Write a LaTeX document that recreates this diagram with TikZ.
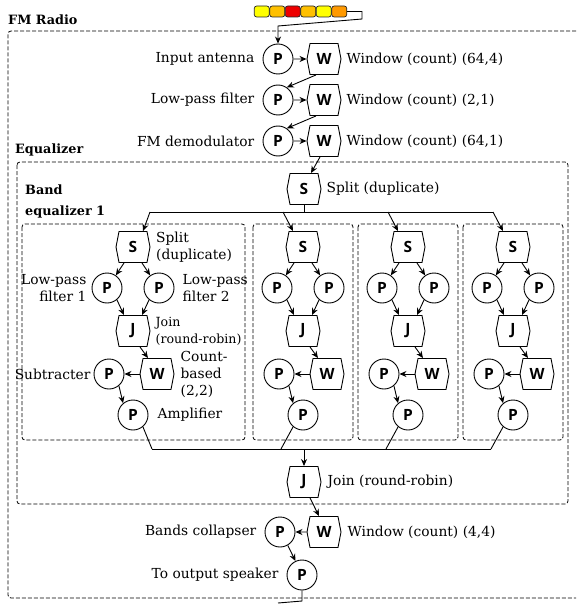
\documentclass[tikz,border=0pt]{standalone}
\usepackage{fontspec}
\setmainfont{DejaVu Serif}
\newfontfamily\nodefont{Open Sans}
\usetikzlibrary{arrows.meta,calc,shapes.symbols}
\definecolor{tyel}{HTML}{FFFF00}
\definecolor{tgold}{HTML}{FFC000}
\definecolor{tred}{HTML}{EE0000}
\definecolor{torng}{HTML}{FF9900}
\begin{document}
\begin{tikzpicture}[x=1pt,y=-1pt,
  lbl/.style={inner sep=0pt, font=\fontsize{13.8}{17}\selectfont},
  ttl/.style={inner sep=0pt, align=left, font=\fontsize{12.8}{21}\selectfont\bfseries},
  proc/.style={circle, draw, line width=0.9pt, minimum size=30pt, inner sep=0pt, font=\nodefont\bfseries\fontsize{15.5}{15.5}\selectfont},
  hexa/.style={signal, signal to=east and west, signal pointer angle=158, draw, line width=0.9pt, minimum width=34pt, minimum height=31pt, inner sep=0pt, font=\nodefont\bfseries\fontsize{15.5}{15.5}\selectfont},
  arr/.style={-{Stealth[length=7pt,width=6pt]}, line width=0.9pt},
  ln/.style={line width=0.9pt},
  dbox/.style={draw, dash pattern=on 4pt off 2pt, line width=0.8pt, rounded corners=3pt},
  token/.style={draw=black!85, line width=0.7pt, rounded corners=2.5pt, minimum width=15pt, minimum height=11pt, inner sep=0pt}
]
\useasboundingbox (0,0) rectangle (576,604);

% containers
\draw[dbox] (576,31) -- (8,31) -- (8,598) -- (576,598);
\draw[dbox] (17,162) rectangle (568,504);
\draw[dbox] (22,224) rectangle (245,440);
\foreach \c in {303,408,513} {
  \draw[dbox] ({\c-50},224) rectangle ({\c+50},440);
}
\node[ttl, anchor=west] (tFM) at (8,20) {FM Radio};
\node[ttl, anchor=west] (tEQ) at (15,150) {Equalizer};
\node[ttl, anchor=west] (tBE) at (25,201.5) {Band\\equalizer 1};

% token queue
\foreach \k/\col in {0/tyel,1/tgold,2/tred,3/tgold,4/tyel,5/torng} {
  \node[token, fill=\col] (t\k) at ({261.75+15.5*\k},11.5) {};
}

% top chain
\node[proc] (P1) at (278,59) {P};
\node[hexa] (W1) at (324,59) {W};
\node[proc] (P2) at (278,100) {P};
\node[hexa] (W2) at (324,100) {W};
\node[proc] (P3) at (278,141) {P};
\node[hexa] (W3) at (324,141) {W};
\node[lbl, anchor=east] (L1) at ($(P1.west)+(-8,0)$) {Input antenna};
\node[lbl, anchor=east] (L2) at ($(P2.west)+(-8,0)$) {Low-pass filter};
\node[lbl, anchor=east] (L3) at ($(P3.west)+(-8,0)$) {FM demodulator};
\node[lbl, anchor=west] (R1) at ($(W1.east)+(5,0)$) {Window (count) (64,4)};
\node[lbl, anchor=west] (R2) at ($(W2.east)+(5,0)$) {Window (count) (2,1)};
\node[lbl, anchor=west] (R3) at ($(W3.east)+(5,0)$) {Window (count) (64,1)};

\coordinate (q1) at (362,11.5);
\coordinate (q2) at (362,19);
\coordinate (q3) at (278,26);
\draw[arr] (t5.east) -- (q1) -- (q2) -- (q3) -- (P1.north);
\draw[arr] (P1) -- (W1);
\draw[arr] (P2) -- (W2);
\draw[arr] (P3) -- (W3);
\draw[arr] ($(W1.south)+(-8,0)$) -- (P2.55);
\draw[arr] ($(W2.south)+(-8,0)$) -- (P3.55);

% equalizer split
\node[hexa] (S0) at (304,189) {S};
\node[lbl, anchor=west] (RS0) at ($(S0.east)+(5,0)$) {Split (duplicate)};
\draw[arr] ($(W3.south)+(-4,0)$) -- ($(S0.north)+(7,0)$);
\coordinate (bs) at (304,212);
\coordinate (bl) at (150,212);
\coordinate (br) at (493,212);
\draw[ln] (S0.south) -- (bs);
\draw[ln] (bl) -- (br);

% bands
\foreach \c/\i in {133/1,303/2,408/3,513/4} {
  \node[hexa] (BS\i) at (\c,247) {S};
  \node[proc] (BA\i) at ({\c-26},288) {P};
  \node[proc] (BB\i) at ({\c+26},288) {P};
  \node[hexa] (BJ\i) at (\c,331) {J};
  \node[hexa] (BW\i) at ({\c+24},374) {W};
  \node[proc] (BP\i) at ({\c-24},374) {P};
  \node[proc] (BQ\i) at (\c,415) {P};
  \draw[arr] ($(BS\i.south)+(-9,0)$) -- (BA\i.55);
  \draw[arr] ($(BS\i.south)+(9,0)$) -- (BB\i.125);
  \draw[arr] (BA\i.-50) -- ($(BJ\i.north)+(-9,0)$);
  \draw[arr] (BB\i.-130) -- ($(BJ\i.north)+(9,0)$);
  \draw[arr] ($(BJ\i.south)+(7,0)$) -- ($(BW\i.north)+(-9,0)$);
  \draw[arr] (BW\i) -- (BP\i);
  \draw[arr] (BP\i.-50) -- (BQ\i.130);
}
\draw[arr] (bl) -- ($(BS1.north)+(10,0)$);
\foreach \c/\i in {303/2,408/3,513/4} {
  \coordinate (bt\i) at ({\c-20},212);
  \draw[arr] (bt\i) -- ($(BS\i.north)+(-10,0)$);
}

% band 1 labels
\node[lbl, align=left, anchor=west] (lS) at ($(BS1.east)+(5.5,0)$) {Split\\(duplicate)};
\node[lbl, align=right, anchor=east] (lA) at ($(BA1.west)+(-5,0)$) {Low-pass\\filter 1};
\node[lbl, align=left, anchor=west] (lB) at ($(BB1.east)+(8,0)$) {Low-pass\\filter 2};
\node[lbl, align=left, anchor=west, font=\fontsize{12.6}{17}\selectfont] (lJ) at ($(BJ1.east)+(5,0)$) {Join\\(round-robin)};
\node[lbl, align=left, anchor=west] (lW) at ($(BW1.east)+(6,0)$) {Count-\\based\\(2,2)};
\node[lbl, anchor=east] (lP) at ($(BP1.west)+(-3,0)$) {Subtracter};
\node[lbl, anchor=west] (lQ) at ($(BQ1.east)+(9,0)$) {Amplifier};

% join bus
\coordinate (jl) at (152,449);
\coordinate (jr) at (491,449);
\coordinate (jm) at (304,449);
\draw[ln] (jl) -- (jr);
\draw[ln] (BQ1.-50) -- (jl);
\foreach \c/\i in {303/2,408/3,513/4} {
  \coordinate (jb\i) at ({\c-22},449);
  \draw[ln] (BQ\i.-130) -- (jb\i);
}
\node[hexa] (J0) at (304,482) {J};
\node[lbl, anchor=west] (RJ0) at ($(J0.east)+(6,0)$) {Join (round-robin)};
\draw[arr] (jm) -- (J0.north);

% output chain
\node[hexa] (W4) at (324,532) {W};
\node[proc] (Pc) at (280,532) {P};
\node[proc] (Po) at (302,575) {P};
\node[lbl, anchor=west] (RW4) at ($(W4.east)+(6,0)$) {Window (count) (4,4)};
\node[lbl, anchor=east] (LPc) at ($(Pc.west)+(-8,0)$) {Bands collapser};
\node[lbl, anchor=east] (LPo) at ($(Po.west)+(-8,0)$) {To output speaker};
\draw[arr] ($(J0.south)+(6,0)$) -- ($(W4.north)+(-5,0)$);
\draw[arr] (W4) -- (Pc);
\draw[arr] (Pc.-60) -- (Po.115);
\coordinate (o1) at (302,601);
\coordinate (o2) at (278,603);
\draw[ln] (Po.south) -- (o1) -- (o2);
\end{tikzpicture}
\end{document}
